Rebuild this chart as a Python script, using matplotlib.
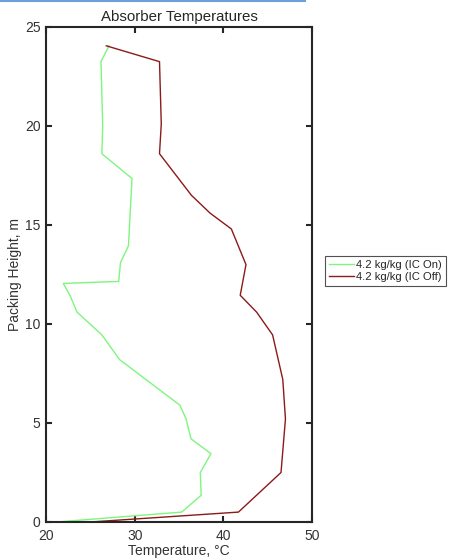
import matplotlib
matplotlib.use("Agg")
import matplotlib.pyplot as plt
from matplotlib.lines import Line2D

plt.rcParams['font.family'] = ['Liberation Sans', 'DejaVu Sans']

# IC On (green)
on_temp = [27.1, 26.2, 26.4, 26.3, 29.7, 29.3, 28.4, 28.2, 21.95, 22.7, 23.5,
           26.3, 28.3, 35.1, 35.8, 36.35, 38.6, 37.4, 37.5, 35.3, 22.6, 21.4]
on_height = [24.05, 23.25, 20.0, 18.6, 17.35, 13.95, 13.1, 12.15, 12.05, 11.45, 10.6,
             9.45, 8.2, 5.9, 5.2, 4.2, 3.45, 2.5, 1.35, 0.5, 0.05, 0.0]

# IC Off (dark red)
off_temp = [26.8, 32.8, 33.0, 32.8, 36.4, 38.5, 40.9, 42.55, 41.9, 43.75, 45.55,
            46.7, 47.0, 46.5, 41.7, 25.0]
off_height = [24.05, 23.25, 20.1, 18.6, 16.5, 15.6, 14.8, 13.0, 11.45, 10.6, 9.45,
              7.2, 5.2, 2.5, 0.5, 0.0]

xticks = [20, 30, 40, 50]
yticks = [0, 5, 10, 15, 20, 25]

fig = plt.figure(figsize=(4.49, 5.59), dpi=100)
ax = fig.add_axes([0.1024, 0.0662, 0.5926, 0.8855])

ax.plot(on_temp, on_height, color='#7ef57e', lw=1.0, label='4.2 kg/kg (IC On)')
ax.plot(off_temp, off_height, color='#8b1a1a', lw=1.0, label='4.2 kg/kg (IC Off)')

ax.set_xlim(20, 50)
ax.set_ylim(0, 25)
ax.set_xticks(xticks)
ax.set_yticks(yticks)
ax.tick_params(direction='in', top=True, right=True, length=4, width=1.5,
               labelsize=10, colors='#262626', labelcolor='#333333')
ax.tick_params(axis='x', pad=5)
ax.tick_params(axis='y', pad=4)
for s in ax.spines.values():
    s.set_linewidth(1.5)
    s.set_color('#262626')

ax.set_title('Absorber Temperatures', fontsize=10.8, color='#262626', pad=4)
ax.set_xlabel('Temperature, °C', fontsize=10, color='#333333', labelpad=1)
ax.set_ylabel('Packing Height, m', fontsize=10, color='#333333', labelpad=2)

leg = ax.legend(loc='upper left', bbox_to_anchor=(0.724, 0.542),
                bbox_transform=fig.transFigure, fontsize=8.1, frameon=True,
                fancybox=False, edgecolor='#262626', handlelength=2.2,
                handletextpad=0.2, borderpad=0.35, labelspacing=0.2,
                borderaxespad=0)
leg.get_frame().set_linewidth(0.8)
for t in leg.get_texts():
    t.set_color('#262626')

fig.add_artist(Line2D([0, 305 / 449], [0.998, 0.998], transform=fig.transFigure,
                      color='#6f9fd8', lw=1.5))

fig.savefig('out.png', dpi=100)
